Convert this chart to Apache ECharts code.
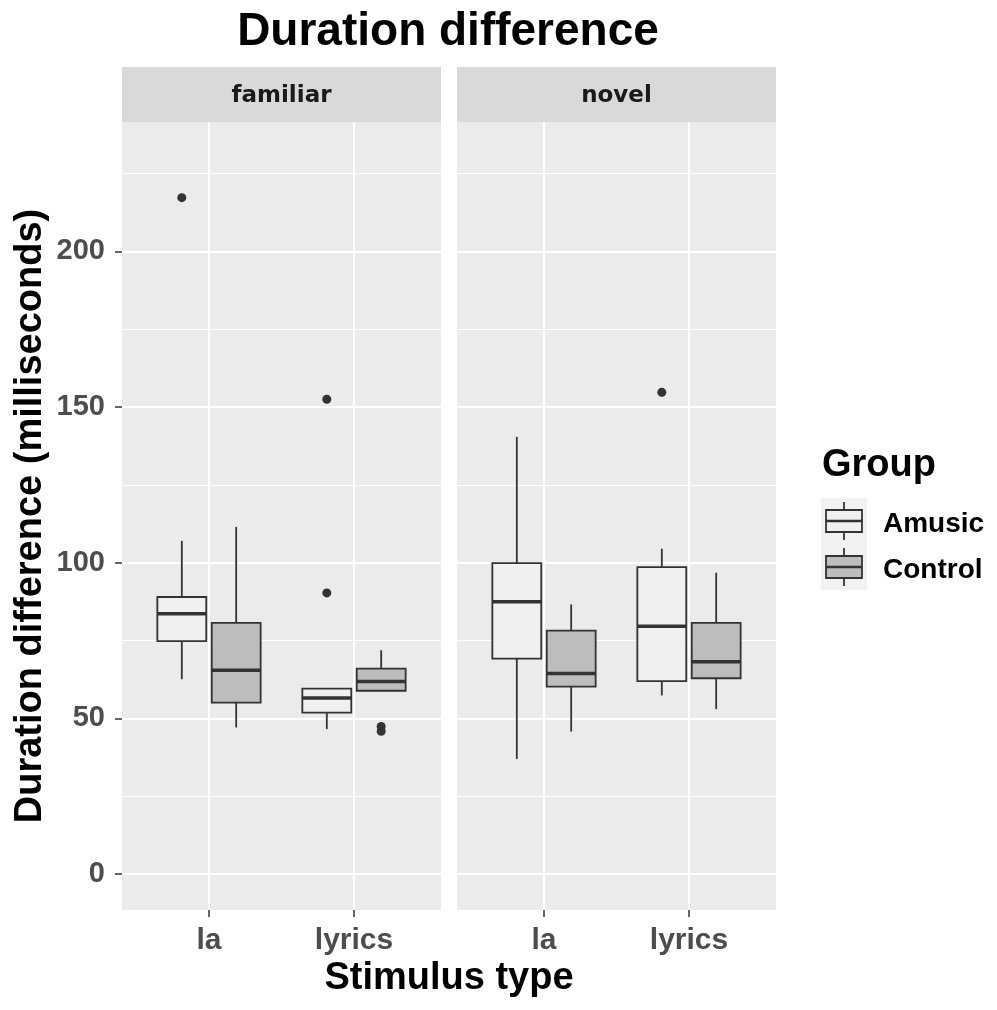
<!DOCTYPE html>
<html>
<head>
<meta charset="utf-8">
<title>Duration difference</title>
<script src="https://cdn.jsdelivr.net/npm/echarts@6.0.0/dist/echarts.min.js"></script>
<style>
  html, body { margin: 0; padding: 0; background: #fff; }
  #chart { width: 997px; height: 1010px; }
</style>
</head>
<body>
<div id="chart"></div>
<script>
const facets = ['familiar', 'novel'];
const stimuli = ['la', 'lyrics'];
const groups = ['Amusic', 'Control'];
const yTicks = [0, 50, 100, 150, 200];
const yMinorTicks = [25, 75, 125, 175, 225];

// per stimulus: [lower whisker, Q1, median, Q3, upper whisker]
const familiarAmusic = [[62.6, 74.8, 83.6, 89.0, 107.0], [46.6, 51.9, 56.6, 59.6, 59.6]];
const familiarControl = [[47.1, 55.1, 65.5, 80.7, 111.5], [58.9, 58.9, 61.9, 66.0, 71.9]];
const novelAmusic = [[37.0, 69.2, 87.5, 99.9, 140.4], [57.4, 62.0, 79.6, 98.6, 104.5]];
const novelControl = [[45.8, 60.2, 64.4, 78.2, 86.6], [53.0, 62.9, 68.2, 80.7, 96.8]];

// outliers: [stimulus index, group index, value]
const familiarOutliers = [[0, 0, 217.2], [1, 0, 152.5], [1, 0, 90.3], [1, 1, 47.4], [1, 1, 45.9]];
const novelOutliers = [[1, 0, 154.7]];

const boxes = [[familiarAmusic, familiarControl], [novelAmusic, novelControl]];
const outliers = [familiarOutliers, novelOutliers];
const fills = ['#F0F0F0', '#BDBDBD'];
const dodge = 0.1875;
const boxWidth = 0.3375;
const font = '"Liberation Sans", Arial, sans-serif';
const ink = '#333333';

function renderBox(api, fill) {
  const x = api.value(0);
  const pt = i => api.coord([x, api.value(i)]);
  const lo = pt(1), q1 = pt(2), md = pt(3), q3 = pt(4), hi = pt(5);
  const half = api.size([boxWidth, 0])[0] / 2;
  const cx = lo[0];
  const stroke = { stroke: ink, lineWidth: 1.8 };
  return {
    type: 'group',
    children: [
      { type: 'line', shape: { x1: cx, y1: hi[1], x2: cx, y2: q3[1] }, style: stroke },
      { type: 'line', shape: { x1: cx, y1: q1[1], x2: cx, y2: lo[1] }, style: stroke },
      { type: 'rect', shape: { x: cx - half, y: q3[1], width: half * 2, height: q1[1] - q3[1] },
        style: { fill: fill, stroke: ink, lineWidth: 1.8 } },
      { type: 'line', shape: { x1: cx - half, y1: md[1], x2: cx + half, y2: md[1] },
        style: { stroke: ink, lineWidth: 3.5 } }
    ]
  };
}

const panelLeft = [122, 457];
const panelWidth = 319;
const panelTop = 122;
const panelHeight = 788;

const grid = facets.map((f, p) => ({
  left: panelLeft[p], top: panelTop, width: panelWidth, height: panelHeight,
  show: true, backgroundColor: '#EBEBEB', borderWidth: 0, outerBoundsMode: 'none'
}));

const xAxis = facets.map((f, p) => ({
  type: 'value', gridIndex: p, min: 0.4, max: 2.6,
  axisLine: { show: false, onZero: false },
  axisTick: { show: true, customValues: [1, 2], length: 7, lineStyle: { color: ink, width: 1.5 } },
  axisLabel: {
    customValues: [1, 2], formatter: v => stimuli[Math.round(v) - 1],
    margin: 16, fontSize: 30, fontWeight: 'bold', color: '#4D4D4D', fontFamily: font
  },
  splitLine: { show: true, lineStyle: { color: '#FFFFFF', width: 2 } }
}));

const yAxis = [];
facets.forEach((f, p) => {
  yAxis.push({
    type: 'value', gridIndex: p, min: -11.5, max: 241.5,
    axisLine: { show: false, onZero: false },
    axisTick: { show: p === 0, customValues: yTicks, length: 7, lineStyle: { color: ink, width: 1.5 } },
    axisLabel: {
      show: p === 0, customValues: yTicks, margin: 17,
      fontSize: 29, fontWeight: 'bold', color: '#4D4D4D', fontFamily: font
    },
    splitLine: { show: true, lineStyle: { color: '#FFFFFF', width: 2 } }
  });
  yAxis.push({
    type: 'value', gridIndex: p, min: -11.5, max: 241.5,
    axisLine: { show: false, onZero: false },
    axisTick: { show: false, customValues: yMinorTicks },
    axisLabel: { show: false },
    splitLine: { show: true, lineStyle: { color: '#FFFFFF', width: 1.2 } }
  });
});

const series = [];
facets.forEach((f, p) => {
  groups.forEach((g, gi) => {
    series.push({
      type: 'custom', name: g, xAxisIndex: p, yAxisIndex: p * 2,
      data: boxes[p][gi].map((b, si) => [si + 1 + (gi ? dodge : -dodge)].concat(b)),
      encode: { x: 0, y: [1, 2, 3, 4, 5] },
      renderItem: (params, api) => renderBox(api, fills[gi]),
      silent: true, z: 3
    });
  });
  series.push({
    type: 'scatter', xAxisIndex: p, yAxisIndex: p * 2,
    data: outliers[p].map(o => [o[0] + 1 + (o[1] ? dodge : -dodge), o[2]]),
    symbolSize: 9, itemStyle: { color: ink, opacity: 1 }, silent: true, z: 4
  });
});

// strips, titles and legend
const graphic = [];
facets.forEach((f, p) => {
  graphic.push({ type: 'rect', shape: { x: panelLeft[p], y: 67, width: panelWidth, height: 55 }, style: { fill: '#D9D9D9' } });
  graphic.push({ type: 'text', x: panelLeft[p] + panelWidth / 2, y: 96,
    style: { text: f, font: 'bold 23px "DejaVu Sans", sans-serif', fill: '#1A1A1A', align: 'center', verticalAlign: 'middle' } });
});
graphic.push({ type: 'text', x: 448, y: 32,
  style: { text: 'Duration difference', font: 'bold 46px ' + font, fill: '#000', align: 'center', verticalAlign: 'middle' } });
graphic.push({ type: 'text', x: 449, y: 979,
  style: { text: 'Stimulus type', font: 'bold 38px ' + font, fill: '#000', align: 'center', verticalAlign: 'middle' } });
graphic.push({ type: 'text', x: 31, y: 516, rotation: Math.PI / 2,
  style: { text: 'Duration difference (milliseconds)', font: 'bold 38px ' + font, fill: '#000', align: 'center', verticalAlign: 'middle' } });
graphic.push({ type: 'text', x: 822, y: 466,
  style: { text: 'Group', font: 'bold 38px ' + font, fill: '#000', align: 'left', verticalAlign: 'middle' } });
graphic.push({ type: 'rect', shape: { x: 821, y: 498, width: 46, height: 92 }, style: { fill: '#F2F2F2' } });
groups.forEach((g, gi) => {
  const cy = 521 + gi * 46;
  const st = { stroke: ink, lineWidth: 1.8 };
  graphic.push({ type: 'line', shape: { x1: 844, y1: cy - 19, x2: 844, y2: cy - 11 }, style: st });
  graphic.push({ type: 'line', shape: { x1: 844, y1: cy + 11, x2: 844, y2: cy + 19 }, style: st });
  graphic.push({ type: 'rect', shape: { x: 826, y: cy - 11, width: 36, height: 22 }, style: { fill: fills[gi], stroke: ink, lineWidth: 1.8 } });
  graphic.push({ type: 'line', shape: { x1: 826, y1: cy, x2: 862, y2: cy }, style: { stroke: ink, lineWidth: 2.5 } });
  graphic.push({ type: 'text', x: 883, y: cy + 3,
    style: { text: g, font: 'bold 28px ' + font, fill: '#000', align: 'left', verticalAlign: 'middle' } });
});

const chart = echarts.init(document.getElementById('chart'));
chart.setOption({
  backgroundColor: '#FFFFFF',
  animation: false,
  grid: grid,
  xAxis: xAxis,
  yAxis: yAxis,
  series: series,
  graphic: graphic
});
</script>
</body>
</html>
